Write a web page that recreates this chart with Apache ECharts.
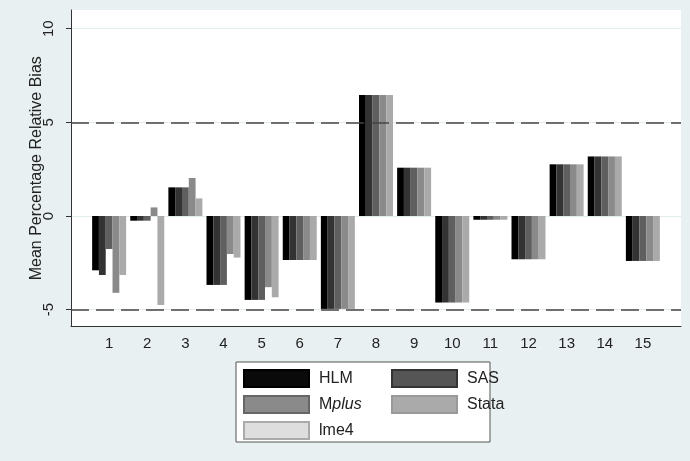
<!DOCTYPE html>
<html>
<head>
<meta charset="utf-8">
<script src="https://cdn.jsdelivr.net/npm/echarts@6/dist/echarts.min.js"></script>
<style>
  html, body { margin: 0; padding: 0; background: #e9f0f2; }
  #chart { width: 690px; height: 461px; }
</style>
</head>
<body>
<div id="chart"></div>
<script>
// conditions 1..15
const categories = [1, 2, 3, 4, 5, 6, 7, 8, 9, 10, 11, 12, 13, 14, 15];
const hlm   = [-2.9, -0.25, 1.53, -3.68, -4.48, -2.35, -4.96, 6.46, 2.58, -4.62, -0.2, -2.31, 2.76, 3.18, -2.4];
const sas   = [-3.15, -0.25, 1.53, -3.68, -4.48, -2.35, -4.96, 6.46, 2.58, -4.62, -0.2, -2.31, 2.76, 3.18, -2.4];
const mplus = [-1.76, -0.25, 1.53, -3.68, -4.48, -2.35, -4.96, 6.46, 2.58, -4.62, -0.2, -2.31, 2.76, 3.18, -2.4];
const stata = [-4.1, 0.46, 2.03, -2.03, -3.8, -2.35, -4.96, 6.46, 2.58, -4.62, -0.2, -2.31, 2.76, 3.18, -2.4];
const lme4  = [-3.15, -4.75, 0.94, -2.22, -4.34, -2.35, -4.96, 6.46, 2.58, -4.62, -0.2, -2.31, 2.76, 3.18, -2.4];
const yTicks = [-5, 0, 5, 10];
const refLines = [5, -5];

const font = 'Liberation Sans, Arial, sans-serif';
const chart = echarts.init(document.getElementById('chart'));

function bar(name, values, color) {
  return {
    name: name,
    type: 'bar',
    barWidth: 6.8,
    barGap: '0%',
    z: 3,
    itemStyle: { color: color },
    data: categories.map((c, i) => [c, values[i]])
  };
}

const legendText = {
  fontSize: 16,
  color: '#222',
  fontFamily: font,
  padding: [0, 0, 0, 5],
  rich: { i: { fontStyle: 'italic', fontSize: 16, color: '#222', fontFamily: font } }
};

const option = {
  backgroundColor: '#e9f0f2',
  animation: false,
  grid: {
    left: 71, right: 9, top: 10, bottom: 134.5,
    show: true, backgroundColor: '#fff', borderWidth: 0
  },
  xAxis: {
    type: 'value',
    min: 0, max: 16, interval: 1,
    axisLine: { onZero: false, lineStyle: { color: '#333', width: 1 } },
    axisTick: { show: false },
    splitLine: { show: false },
    axisLabel: {
      margin: 10, fontSize: 15, color: '#222', fontFamily: font,
      formatter: v => (v >= 1 && v <= 15 ? String(v) : '')
    }
  },
  yAxis: {
    type: 'value',
    min: -5.9, max: 11,
    name: 'Mean Percentage Relative Bias',
    nameLocation: 'middle',
    nameGap: 26,
    nameMoveOverlap: false,
    nameTextStyle: { fontSize: 16, color: '#222', fontFamily: font },
    axisLine: { show: true, onZero: false, lineStyle: { color: '#333', width: 1 } },
    axisTick: { show: true, length: 5, customValues: yTicks, lineStyle: { color: '#333' } },
    axisLabel: {
      customValues: yTicks, rotate: 90, margin: 15,
      fontSize: 15, color: '#222', fontFamily: font
    },
    splitLine: { show: true, lineStyle: { color: '#e2ecef', width: 1 } }
  },
  legend: [
    {
      orient: 'vertical', left: 238, top: 364,
      itemWidth: 65, itemHeight: 17, itemGap: 7,
      icon: 'rect',
      selectedMode: false,
      textStyle: legendText,
      formatter: n => (n === 'Mplus' ? 'M{i|plus}' : n),
      data: [
        { name: 'HLM', itemStyle: { color: '#0a0a0a', borderColor: '#000', borderWidth: 2 } },
        { name: 'Mplus', itemStyle: { color: '#8a8a8a', borderColor: '#666', borderWidth: 2 } },
        { name: 'lme4', itemStyle: { color: '#dedede', borderColor: '#aaa', borderWidth: 2 } }
      ]
    },
    {
      orient: 'vertical', left: 386, top: 364,
      itemWidth: 65, itemHeight: 17, itemGap: 7,
      icon: 'rect',
      selectedMode: false,
      textStyle: legendText,
      data: [
        { name: 'SAS', itemStyle: { color: '#555', borderColor: '#333', borderWidth: 2 } },
        { name: 'Stata', itemStyle: { color: '#aaa', borderColor: '#999', borderWidth: 2 } }
      ]
    }
  ],
  graphic: [
    {
      type: 'rect', z: 1,
      shape: { x: 236, y: 362, width: 254, height: 80 },
      style: { fill: '#fff', stroke: '#555', lineWidth: 1 }
    }
  ],
  series: [
    bar('HLM', hlm, '#000'),
    bar('SAS', sas, '#333'),
    bar('Mplus', mplus, '#5f5f5f'),
    bar('Stata', stata, '#8a8a8a'),
    bar('lme4', lme4, '#aaa'),
    {
      name: 'ref',
      type: 'line',
      z: 2,
      data: [],
      markLine: {
        silent: true,
        symbol: 'none',
        label: { show: false },
        lineStyle: { color: '#444', width: 1.6, type: [18, 7] },
        data: refLines.map(v => ({ yAxis: v }))
      }
    }
  ]
};

chart.setOption(option);
</script>
</body>
</html>
